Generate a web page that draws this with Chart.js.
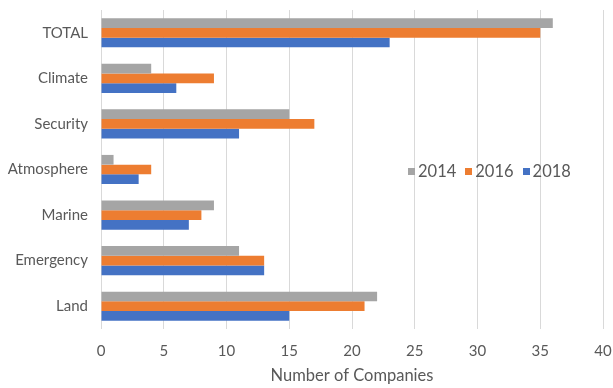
<!DOCTYPE html>
<html>
<head>
<meta charset="utf-8">
<script src="https://cdn.jsdelivr.net/npm/chart.js@4"></script>
<style>
  html, body { margin:0; padding:0; background:#fff; }
  #wrap { position:relative; width:613px; height:388px; }
  #legend { position:absolute; left:408px; top:161px; font-family:Lato, "Open Sans", sans-serif; font-size:16.5px; color:#595959; display:flex; gap:9px; }
  #legend span.item { display:flex; align-items:center; }
  #legend span.sw { display:inline-block; width:7px; height:7px; margin-right:3px; }
</style>
</head>
<body>
<div id="wrap">
<canvas id="c" width="613" height="388"></canvas>
<div id="legend"></div>
</div>
<script>
const categories = ["TOTAL", "Climate", "Security", "Atmosphere", "Marine", "Emergency", "Land"];
const seriesNames = ["2014", "2016", "2018"];
const values2014 = [36, 4, 15, 1, 9, 11, 22];
const values2016 = [35, 9, 17, 4, 8, 13, 21];
const values2018 = [23, 6, 11, 3, 7, 13, 15];
const colors = ["#a5a5a5", "#ed7d31", "#4472c4"];
const xTicks = [0, 5, 10, 15, 20, 25, 30, 35, 40];

const seriesValues = [values2014, values2016, values2018];
const fontFam = 'Lato, "Open Sans", sans-serif';

new Chart(document.getElementById('c'), {
  type: 'bar',
  data: {
    labels: categories,
    datasets: seriesNames.map((n, i) => ({
      label: n,
      data: seriesValues[i],
      backgroundColor: colors[i],
      borderWidth: 0,
      barPercentage: 1.0,
      categoryPercentage: 0.64
    }))
  },
  options: {
    indexAxis: 'y',
    responsive: false,
    animation: false,
    layout: { padding: { top: 10, right: 10, left: 0, bottom: 0 } },
    plugins: { legend: { display: false }, tooltip: { enabled: false } },
    scales: {
      x: {
        min: 0, max: 40,
        afterBuildTicks: s => { s.ticks = xTicks.map(v => ({ value: v })); },
        afterFit: s => { s.height = 59; s.paddingLeft = 0; s.paddingRight = 0; },
        grid: { color: '#d9d9d9', lineWidth: 1, drawTicks: false },
        border: { display: false },
        ticks: { color: '#595959', font: { family: fontFam, size: 15 }, padding: 13 },
        title: { display: true, text: 'Number of Companies', color: '#595959', font: { family: fontFam, size: 16.5 }, padding: { top: 0, bottom: 2 } }
      },
      y: {
        afterFit: s => { s.width = 101; s.paddingTop = 0; s.paddingBottom = 0; },
        grid: { display: false, drawTicks: false },
        border: { display: false },
        ticks: { color: '#595959', font: { family: fontFam, size: 15 }, padding: 13 }
      }
    }
  }
});

const lg = document.getElementById('legend');
seriesNames.forEach((n, i) => {
  const it = document.createElement('span');
  it.className = 'item';
  const sw = document.createElement('span');
  sw.className = 'sw';
  sw.style.background = colors[i];
  it.appendChild(sw);
  it.appendChild(document.createTextNode(n));
  lg.appendChild(it);
});
</script>
</body>
</html>
